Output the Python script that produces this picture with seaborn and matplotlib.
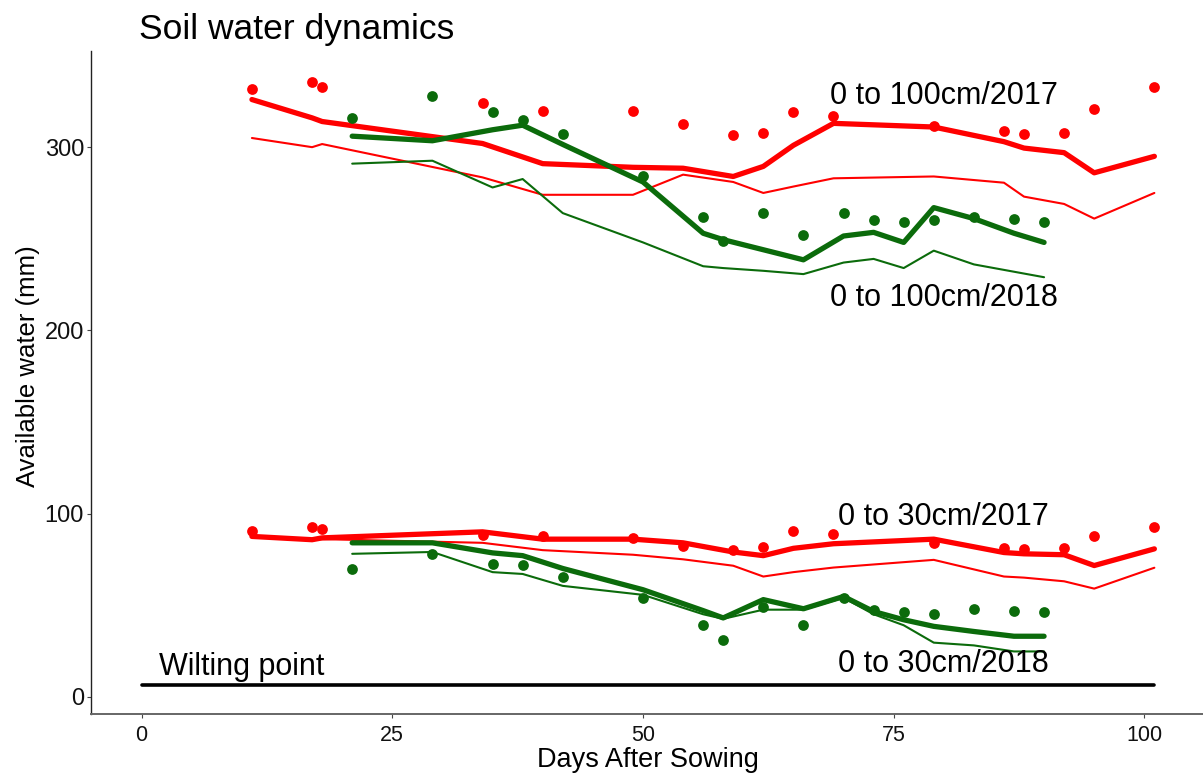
import matplotlib
matplotlib.use("Agg")
import matplotlib.pyplot as plt
import seaborn as sns
import pandas as pd

# ---------------- data ----------------
days_2017 = [11, 17, 18, 34, 40, 49, 54, 59, 62, 65, 69, 79, 86, 88, 92, 95, 101]
days_2018 = [21, 29, 35, 38, 42, 50, 56, 58, 62, 66, 70, 73, 76, 79, 83, 87, 90]

obs_100_2017 = [332, 335.5, 333, 324, 320, 320, 312.5, 306.5, 307.5, 319, 317, 311.5, 309, 307, 308, 321, 333]
sim_a_100_2017 = [326, 316, 314, 302, 291, 289, 288.5, 284, 289.5, 301, 313, 311, 303, 299.5, 297, 286, 295]
sim_b_100_2017 = [305, 300, 301.7, 283.5, 274, 274, 285, 281, 275, 278.5, 283, 284, 280.6, 273, 269, 261, 275]

obs_100_2018 = [316, 328, 319, 315, 307, 284, 262, 249, 264, 252, 264, 260, 259, 260, 262, 261, 259]
sim_a_100_2018 = [306, 303.5, 309.5, 312, 301.5, 281, 253, 249.5, 244, 238.5, 251.5, 253.5, 248, 267, 261, 253, 248]
sim_b_100_2018 = [291, 292.6, 278, 282.6, 264, 248, 235, 234, 232.5, 230.7, 237, 239, 234, 243.5, 236, 232, 229]

obs_30_2017 = [90.5, 92.5, 91.6, 88, 87.8, 86.7, 82, 80, 81.7, 90.7, 89, 84, 81, 80.6, 81, 87.8, 92.9]
sim_a_30_2017 = [87.5, 85.7, 86.7, 90, 86, 86, 84, 79, 77, 81, 83.5, 86, 78.7, 78, 77.5, 71.6, 80.7]
sim_b_30_2017 = [87, 86, 86, 84, 80, 77.5, 75, 71.5, 65.6, 68, 70.5, 74.7, 65.6, 65, 63, 59, 70.4]

obs_30_2018 = [69.8, 78, 72.6, 72, 65.6, 54, 39, 31, 49, 39, 54, 47.5, 46, 45, 48, 47, 46.5]
sim_a_30_2018 = [84, 84, 78.5, 77, 70, 58.4, 47, 43, 53, 48, 54.7, 46.5, 42, 38.4, 35.6, 33, 33]
sim_b_30_2018 = [78, 79, 68, 67, 60.5, 55.6, 45, 42.5, 47.5, 47.5, 54, 45, 39, 29.5, 28, 24.7, 24.7]

wilting_days = [0, 101]
wilting_value = [6.5, 6.5]

labels = ["0 to 100cm/2017", "0 to 100cm/2018", "0 to 30cm/2017", "0 to 30cm/2018"]
label_x = [80, 80, 80, 80]
label_y = [323.5, 213.3, 93.8, 13.6]

x_ticks = [0, 25, 50, 75, 100]
y_ticks = [0, 100, 200, 300]

# ---------------- style ----------------
sns.set_theme(style="white")
plt.rcParams["font.family"] = ["Liberation Sans", "DejaVu Sans"]
plt.rcParams["text.color"] = "black"

RED = "#FF0000"
GREEN = "#0B6B0B"

fig = plt.figure(figsize=(12.03, 7.74), dpi=100)
ax = fig.add_axes([91 / 1203, 1 - 714 / 774, 1114 / 1203, (714 - 51) / 774])

THICK = 3.8
THIN = 1.5

def line(x, y, color, lw):
    df = pd.DataFrame({"x": x, "y": y})
    sns.lineplot(data=df, x="x", y="y", color=color, linewidth=lw, ax=ax,
                 sort=False, estimator=None)

# red (2017)
line(days_2017, sim_b_100_2017, RED, THIN)
line(days_2017, sim_a_100_2017, RED, THICK)
line(days_2017, sim_b_30_2017, RED, THIN)
line(days_2017, sim_a_30_2017, RED, THICK)
# green (2018)
line(days_2018, sim_b_100_2018, GREEN, THIN)
line(days_2018, sim_a_100_2018, GREEN, THICK)
line(days_2018, sim_b_30_2018, GREEN, THIN)
line(days_2018, sim_a_30_2018, GREEN, THICK)

# wilting point
line(wilting_days, wilting_value, "black", 2.6)

# observations
for xs, ys, c in [(days_2017, obs_100_2017, RED), (days_2017, obs_30_2017, RED),
                  (days_2018, obs_100_2018, GREEN), (days_2018, obs_30_2018, GREEN)]:
    sns.scatterplot(x=xs, y=ys, color=c, s=60, linewidth=0, ax=ax, zorder=3)

for t, x, y in zip(labels, label_x, label_y):
    ax.text(x, y, t, ha="center", va="baseline", fontsize=22, color="black")
ax.text(1.7, 12, "Wilting point", ha="left", va="baseline", fontsize=22, color="black")

ax.set_xlim(-5.05, 106.05)
ax.set_ylim(-9.45, 352.5)
ax.set_xticks(x_ticks)
ax.set_yticks(y_ticks)
ax.set_xticklabels([str(v) for v in x_ticks], fontsize=15.5, color="#111111")
ax.set_yticklabels([str(v) for v in y_ticks], fontsize=17, color="#111111")
ax.tick_params(axis="both", which="both", direction="out", length=3, width=0.8,
               color="#444444", bottom=True, left=True)
ax.tick_params(axis="x", pad=5)
ax.tick_params(axis="y", pad=2)
ax.set_xlabel("")
ax.set_ylabel("")

for s in ["top", "right"]:
    ax.spines[s].set_visible(False)
ax.spines["left"].set_color("#222222")
ax.spines["left"].set_linewidth(1.0)
ax.spines["bottom"].set_color("#666666")
ax.spines["bottom"].set_linewidth(1.4)
ax.grid(False)

fig.text(139 / 1203, 1 - 39 / 774, "Soil water dynamics", ha="left", va="baseline",
         fontsize=25.5, color="black")
fig.text(648 / 1203, 1 - 767 / 774, "Days After Sowing", ha="center", va="baseline",
         fontsize=19.5, color="black")
fig.text(28 / 1203, 1 - 366 / 774, "Available water (mm)", ha="center", va="center",
         rotation=90, fontsize=18.5, color="black")

fig.savefig("out.png", dpi=100)
